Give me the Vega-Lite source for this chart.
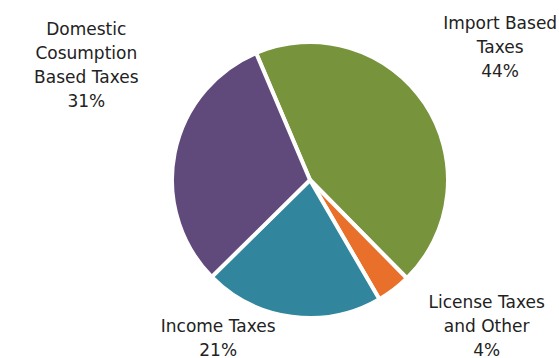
{
  "$schema": "https://vega.github.io/schema/vega-lite/v6.json",
  "width": 498,
  "height": 358,
  "autosize": "none",
  "padding": {"left": 61, "top": 1, "right": 0, "bottom": 0},
  "background": "white",
  "config": {"view": {"stroke": null}},
  "data": {
    "values": [
      {"category": "Import Based Taxes", "share": 44, "rank": 1, "label": "Import Based\nTaxes\n44%"},
      {"category": "License Taxes and Other", "share": 4, "rank": 2, "label": "License Taxes\nand Other\n4%"},
      {"category": "Income Taxes", "share": 21, "rank": 3, "label": "Income Taxes\n21%"},
      {"category": "Domestic Cosumption Based Taxes", "share": 31, "rank": 4, "label": "Domestic\nCosumption\nBased Taxes\n31%"}
    ]
  },
  "encoding": {
    "theta": {"field": "share", "type": "quantitative", "stack": true, "scale": {"range": [-0.4014, 5.8818]}},
    "order": {"field": "rank", "type": "quantitative"}
  },
  "layer": [
    {
      "mark": {"type": "arc", "outerRadius": 138, "stroke": "white", "strokeWidth": 4},
      "encoding": {
        "color": {
          "field": "category",
          "type": "nominal",
          "scale": {
            "domain": ["Import Based Taxes", "License Taxes and Other", "Income Taxes", "Domestic Cosumption Based Taxes"],
            "range": ["#77933C", "#E8702A", "#31859C", "#604A7B"]
          },
          "legend": null
        }
      }
    },
    {
      "mark": {"type": "text", "radius": 230, "dx": -1, "dy": -28, "font": "DejaVu Sans", "fontSize": 17, "lineHeight": 24, "lineBreak": "\n", "align": "center", "baseline": "middle", "color": "#222222"},
      "encoding": {"text": {"condition": {"test": "datum.category === 'Import Based Taxes'", "field": "label"}, "value": ""}}
    },
    {
      "mark": {"type": "text", "radius": 225, "dx": 40, "dy": -56, "font": "DejaVu Sans", "fontSize": 17, "lineHeight": 24, "lineBreak": "\n", "align": "center", "baseline": "middle", "color": "#222222"},
      "encoding": {"text": {"condition": {"test": "datum.category === 'License Taxes and Other'", "field": "label"}, "value": ""}}
    },
    {
      "mark": {"type": "text", "radius": 165, "dx": -70, "dy": -17, "font": "DejaVu Sans", "fontSize": 17, "lineHeight": 24, "lineBreak": "\n", "align": "center", "baseline": "middle", "color": "#222222"},
      "encoding": {"text": {"condition": {"test": "datum.category === 'Income Taxes'", "field": "label"}, "value": ""}}
    },
    {
      "mark": {"type": "text", "radius": 225, "dx": -3, "dy": -106, "font": "DejaVu Sans", "fontSize": 17, "lineHeight": 24, "lineBreak": "\n", "align": "center", "baseline": "middle", "color": "#222222"},
      "encoding": {"text": {"condition": {"test": "datum.category === 'Domestic Cosumption Based Taxes'", "field": "label"}, "value": ""}}
    }
  ]
}
